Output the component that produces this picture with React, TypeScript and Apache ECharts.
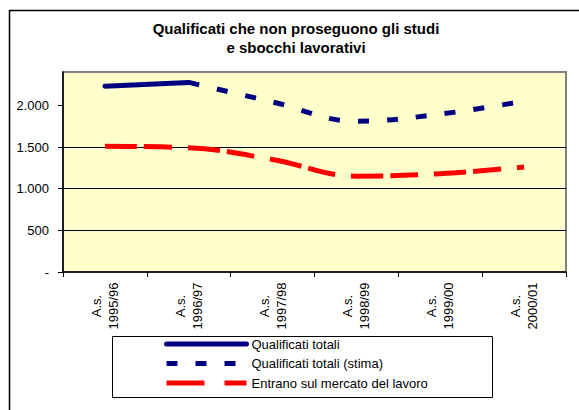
import React, { useEffect, useRef } from "react";
import * as echarts from "echarts";

const categories = [
  "A.s.\n1995/96",
  "A.s.\n1996/97",
  "A.s.\n1997/98",
  "A.s.\n1998/99",
  "A.s.\n1999/00",
  "A.s.\n2000/01",
];
const qualificatiTotali = [2230, 2275, null, null, null, null];
const qualificatiStima = [null, 2275, 2040, 1810, 1895, 2050];
const entranoLavoro = [1510, 1490, 1350, 1150, 1180, 1260];
const yTicks = [0, 500, 1000, 1500, 2000];

const titleText = "Qualificati che non proseguono gli studi\ne sbocchi lavorativi";
const FONT = "Liberation Sans, Arial, sans-serif";

function fmt(v: number): string {
  if (v === 0) return "-";
  if (v >= 1000) return Math.floor(v / 1000) + "." + String(v % 1000).padStart(3, "0");
  return String(v);
}

export default function App() {
  const ref = useRef<HTMLDivElement>(null);
  useEffect(() => {
    if (!ref.current) return;
    const chart = echarts.init(ref.current, null, { renderer: "svg" });
    chart.setOption({
      animation: false,
      backgroundColor: "#ffffff",
      textStyle: { fontFamily: FONT },
      graphic: [
        {
          type: "rect",
          z: -10,
          shape: { x: 9.5, y: 10.5, width: 620, height: 440 },
          style: { fill: "none", stroke: "#000000", lineWidth: 1.5 },
          silent: true,
        },
        {
          type: "text",
          x: 296,
          y: 19,
          style: {
            text: titleText,
            textAlign: "center",
            textVerticalAlign: "top",
            fontFamily: FONT,
            fontWeight: "bold",
            fontSize: 15,
            lineHeight: 19,
            fill: "#000000",
          },
        },
        {
          type: "rect",
          shape: { x: 112.5, y: 336.5, width: 380, height: 61 },
          style: { fill: "#ffffff", stroke: "#000000", lineWidth: 1 },
          z: 0,
          silent: true,
        },
      ],
      legend: {
        orient: "vertical",
        left: 164,
        top: 337,
        itemWidth: 80,
        itemHeight: 14,
        itemGap: 5.5,
        padding: 0,
        z: 5,
        itemStyle: { opacity: 0 },
        lineStyle: { width: 5 },
        textStyle: { fontFamily: FONT, fontSize: 13, color: "#000000", lineHeight: 14 },
        data: [
          { name: "Qualificati totali" },
          { name: "Qualificati totali (stima)" },
          { name: "Entrano sul mercato del lavoro", lineStyle: { type: [38, 20], width: 5 } },
        ],
      },
      grid: {
        show: true,
        left: 63,
        top: 72,
        right: 13,
        bottom: 138,
        backgroundColor: "#FFFFCC",
        borderColor: "#808080",
        borderWidth: 2,
      },
      xAxis: {
        type: "category",
        data: categories,
        boundaryGap: true,
        axisLine: { lineStyle: { color: "#000000", width: 1.5 } },
        axisTick: { show: true, length: 5, lineStyle: { color: "#000000" } },
        axisLabel: {
          rotate: 90,
          interval: 0,
          margin: 34,
          align: "center",
          verticalAlign: "middle",
          fontFamily: FONT,
          fontSize: 13,
          lineHeight: 17,
          color: "#000000",
        },
      },
      yAxis: {
        type: "value",
        min: 0,
        max: 2400,
        interval: 500,
        axisLine: { show: true, lineStyle: { color: "#000000", width: 1.5 } },
        axisTick: { show: true, length: 5, customValues: yTicks, lineStyle: { color: "#000000" } },
        axisLabel: {
          customValues: yTicks,
          margin: 14,
          fontFamily: FONT,
          fontSize: 13,
          color: "#000000",
          formatter: (v: number) => fmt(v),
        },
        splitLine: { show: true, showMaxLine: false, showMinLine: false, lineStyle: { color: "#000000", width: 1 } },
      },
      series: [
        {
          name: "Qualificati totali",
          type: "line",
          data: qualificatiTotali,
          smooth: 0.4,
          symbol: "none",
          color: "#000080",
          lineStyle: { color: "#000080", width: 5, cap: "round" },
          z: 3,
        },
        {
          name: "Qualificati totali (stima)",
          type: "line",
          data: qualificatiStima,
          smooth: 0.4,
          symbol: "none",
          color: "#000080",
          lineStyle: { color: "#000080", width: 5, type: [11, 18] },
          z: 3,
        },
        {
          name: "Entrano sul mercato del lavoro",
          type: "line",
          data: entranoLavoro,
          smooth: 0.4,
          symbol: "none",
          color: "#FF0000",
          lineStyle: { color: "#FF0000", width: 5, type: [32, 7, 28, 16] },
          z: 3,
        },
      ],
    });
    return () => chart.dispose();
  }, []);
  return (
    <div
      ref={ref}
      style={{ position: "fixed", left: 0, top: 0, width: 579, height: 410 }}
    />
  );
}
